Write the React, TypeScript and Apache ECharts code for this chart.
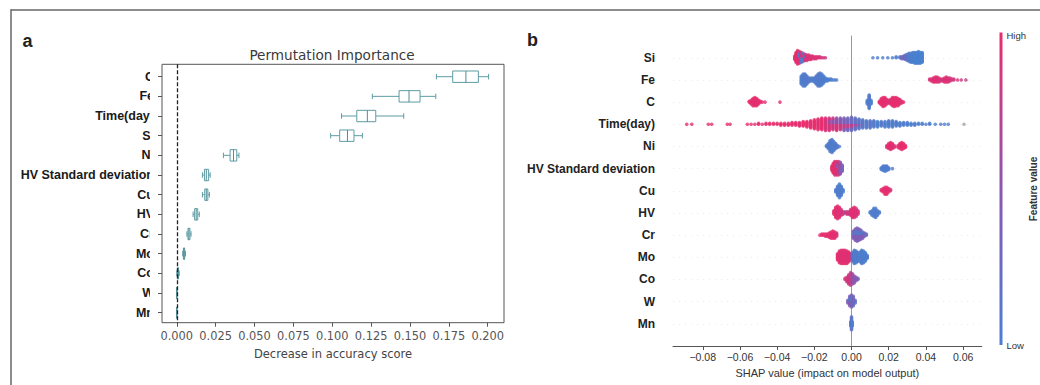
import React, { useEffect, useRef } from 'react';
import * as echarts from 'echarts';

// ---------- Panel a: permutation importance (box plot) ----------
const permFeatures = ['C', 'Fe', 'Time(day)', 'Si', 'Ni', 'HV Standard deviation', 'Cu', 'HV', 'Cr', 'Mo', 'Co', 'W', 'Mn'];
const permMin = [0.167, 0.1258, 0.106, 0.099, 0.03, 0.0165, 0.0165, 0.0105, 0.0065, 0.0038, 0.0, 0, 0];
const permQ1 = [0.1775, 0.143, 0.1158, 0.1048, 0.0343, 0.0178, 0.018, 0.0115, 0.0072, 0.0043, 0.0004, 0, 0];
const permMedian = [0.186, 0.1494, 0.1226, 0.1098, 0.0365, 0.019, 0.019, 0.0125, 0.0078, 0.0047, 0.0008, 0, 0];
const permQ3 = [0.194, 0.1565, 0.128, 0.114, 0.0386, 0.0205, 0.02, 0.0135, 0.0085, 0.0051, 0.0011, 0, 0];
const permMax = [0.2006, 0.1666, 0.146, 0.1194, 0.04, 0.0215, 0.021, 0.0145, 0.0092, 0.0056, 0.0016, 0, 0];
const permTicks = [0, 0.025, 0.05, 0.075, 0.1, 0.125, 0.15, 0.175, 0.2];

// ---------- Panel b: SHAP beeswarm ----------
const shapFeatures = ['Si', 'Fe', 'C', 'Time(day)', 'Ni', 'HV Standard deviation', 'Cu', 'HV', 'Cr', 'Mo', 'Co', 'W', 'Mn'];
const shapTicks = [-0.08, -0.06, -0.04, -0.02, 0, 0.02, 0.04, 0.06];
// [SHAP value, number of samples, feature value (0 = low, 1 = high, -1 = missing)]
const shapSi = [
  [-0.0305, 5, 1], [-0.0298, 12, 0.95], [-0.029, 16, 1], [-0.028, 8, 0.9], [-0.028, 6, 0.15],
  [-0.027, 6, 0.2], [-0.027, 6, 0.9], [-0.026, 6, 0.15], [-0.026, 4, 0.85], [-0.025, 5, 0.9], [-0.025, 3, 0.2],
  [-0.024, 7, 0.9], [-0.023, 6, 0.95], [-0.022, 5, 0.9], [-0.021, 4, 0.95], [-0.02, 3, 0.9], [-0.019, 3, 0.95],
  [-0.018, 2, 0.9], [-0.017, 2, 0.9], [-0.016, 1, 0.9], [-0.015, 1, 0.9], [-0.014, 1, 0.85],
  [0.0115, 1, 0.1], [0.014, 1, 0.15], [0.0168, 1, 0.1], [0.0195, 1, 0.15], [0.022, 1, 0.1], [0.024, 2, 0.15],
  [0.026, 2, 0.1], [0.027, 3, 0.3], [0.028, 4, 0.35], [0.029, 6, 0.3], [0.03, 8, 0.2], [0.031, 10, 0.15],
  [0.032, 11, 0.1], [0.033, 12, 0.1], [0.034, 13, 0.1], [0.035, 13, 0.05], [0.036, 14, 0.1], [0.037, 13, 0.05], [0.038, 12, 0.1],
];
const shapFe = [
  [-0.027, 9, 0.1], [-0.026, 13, 0.15], [-0.025, 13, 0.1], [-0.024, 9, 0.2], [-0.023, 5, 0.15], [-0.022, 4, 0.1],
  [-0.021, 4, 0.15], [-0.02, 5, 0.1], [-0.019, 9, 0.15], [-0.018, 13, 0.1], [-0.017, 14, 0.2], [-0.016, 12, 0.1],
  [-0.015, 8, 0.15], [-0.014, 4, 0.1], [-0.013, 3, 0.1], [-0.012, 2, 0.15], [-0.011, 2, 0.1], [-0.01, 1, 0.1],
  [-0.009, 1, 0.1], [-0.008, 1, 0.15],
  [0.042, 2, 0.9], [0.043, 3, 0.95], [0.044, 5, 0.9], [0.045, 6, 1], [0.046, 6, 0.9], [0.047, 5, 0.95],
  [0.048, 3, 0.85], [0.049, 3, 0.9], [0.05, 5, 1], [0.051, 6, 0.9], [0.052, 5, 0.95], [0.053, 4, 0.9],
  [0.054, 2, 0.85], [0.055, 2, 0.9], [0.057, 1, 0.9], [0.059, 1, 0.85], [0.0615, 1, 0.8],
];
const shapC = [
  [-0.055, 2, 1], [-0.054, 5, 1], [-0.053, 9, 0.95], [-0.052, 10, 1], [-0.051, 9, 0.95], [-0.05, 5, 1],
  [-0.049, 2, 0.95], [-0.048, 1, 1], [-0.0465, 1, 0.95], [-0.0385, 1, 1],
  [0.0085, 5, 0.1], [0.0095, 16, 0.15], [0.0105, 5, 0.1],
  [0.015, 3, 0.95], [0.016, 8, 1], [0.017, 11, 0.95], [0.018, 10, 1], [0.019, 6, 0.95], [0.02, 4, 0.9],
  [0.021, 6, 1], [0.022, 10, 0.95], [0.023, 11, 1], [0.024, 10, 0.95], [0.025, 9, 1], [0.026, 6, 0.95],
  [0.027, 3, 0.9], [0.028, 1, 1],
];
const shapTime = [
  [-0.0886, 1, 1], [-0.0859, 1, 1], [-0.077, 1, 0.95], [-0.0752, 1, 1], [-0.0668, 1, 1], [-0.0653, 1, 0.95],
  [-0.056, 1, 1], [-0.054, 1, 1], [-0.052, 1, 0.95], [-0.05, 2, 1], [-0.048, 1, 1], [-0.046, 2, 0.95],
  [-0.044, 2, 1], [-0.042, 2, 1], [-0.04, 2, 0.95], [-0.038, 3, 1], [-0.036, 3, 1], [-0.034, 3, 0.95],
  [-0.032, 4, 1], [-0.03, 4, 1], [-0.028, 5, 0.95], [-0.026, 6, 1], [-0.024, 7, 1], [-0.022, 9, 0.95],
  [-0.02, 11, 1], [-0.018, 13, 0.95], [-0.016, 14, 1], [-0.014, 15, 0.9],
  [-0.012, 10, 0.9], [-0.012, 5, 0.6], [-0.01, 8, 0.85], [-0.01, 6, 0.5], [-0.008, 8, 0.9], [-0.008, 7, 0.55],
  [-0.006, 7, 0.85], [-0.006, 7, 0.45], [-0.004, 6, 0.8], [-0.004, 9, 0.4], [-0.002, 6, 0.75], [-0.002, 9, 0.35],
  [0.0, 5, 0.8], [0.0, 11, 0.3], [0.002, 4, 0.6], [0.002, 10, 0.25], [0.004, 3, 0.5], [0.004, 9, 0.2],
  [0.006, 10, 0.2], [0.008, 9, 0.15], [0.01, 9, 0.2], [0.012, 8, 0.15], [0.014, 7, 0.1], [0.016, 6, 0.15],
  [0.018, 7, 0.1], [0.02, 8, 0.15], [0.022, 8, 0.1], [0.024, 6, 0.15], [0.026, 5, 0.1], [0.028, 4, 0.15],
  [0.03, 4, 0.1], [0.032, 3, 0.1], [0.034, 3, 0.15], [0.036, 2, 0.1], [0.038, 2, 0.1], [0.04, 1, 0.15],
  [0.042, 2, 0.1], [0.045, 1, 0.1], [0.048, 1, 0.15], [0.05, 1, 0.1], [0.052, 1, 0.1], [0.0605, 1, -1],
];
const shapNi = [
  [-0.0135, 2, 0.1], [-0.0125, 6, 0.15], [-0.0115, 12, 0.1], [-0.0105, 14, 0.15], [-0.0095, 10, 0.1],
  [-0.0085, 6, 0.2], [-0.0075, 3, 0.1], [-0.0065, 1, 0.15],
  [0.019, 3, 0.95], [0.02, 6, 1], [0.021, 8, 0.95], [0.022, 6, 1], [0.023, 3, 0.9],
  [0.025, 3, 1], [0.026, 6, 0.95], [0.027, 8, 1], [0.028, 6, 0.95], [0.029, 3, 1],
];
const shapHVSD = [
  [-0.0105, 6, 0.95], [-0.0098, 12, 1], [-0.009, 16, 0.95], [-0.008, 10, 0.9], [-0.008, 6, 0.6],
  [-0.007, 10, 0.85], [-0.007, 6, 0.5], [-0.006, 8, 0.5], [-0.006, 6, 0.8], [-0.005, 8, 0.35],
  [0.016, 3, 0.1], [0.017, 6, 0.15], [0.018, 7, 0.1], [0.019, 6, 0.15], [0.02, 3, 0.1], [0.022, 1, 0.15],
];
const shapCu = [
  [-0.0085, 3, 0.1], [-0.0075, 9, 0.15], [-0.0065, 13, 0.1], [-0.0055, 9, 0.15], [-0.0045, 3, 0.1],
  [0.016, 2, 0.95], [0.017, 4, 1], [0.018, 7, 0.95], [0.019, 7, 1], [0.02, 4, 0.95], [0.021, 2, 0.9],
];
const shapHV = [
  [-0.0095, 4, 0.95], [-0.0085, 10, 1], [-0.0075, 12, 0.9], [-0.0065, 10, 1], [-0.0055, 6, 0.85],
  [-0.0045, 3, 0.9], [-0.0035, 2, 0.7], [-0.0025, 3, 0.9], [-0.0015, 3, 0.8], [-0.0005, 6, 1],
  [0.0005, 9, 0.9], [0.0015, 10, 1], [0.0025, 8, 0.85], [0.0035, 4, 0.95],
  [0.01, 2, 0.1], [0.011, 5, 0.15], [0.012, 8, 0.1], [0.013, 9, 0.15], [0.014, 5, 0.1], [0.015, 2, 0.15],
];
const shapCr = [
  [-0.017, 1, 1], [-0.016, 2, 0.95], [-0.015, 2, 1], [-0.014, 3, 0.95], [-0.013, 3, 1], [-0.012, 5, 0.95],
  [-0.011, 7, 1], [-0.01, 8, 0.95], [-0.009, 7, 1], [-0.008, 4, 0.9],
  [0.001, 5, 0.45], [0.001, 3, 0.2], [0.002, 7, 0.45], [0.002, 5, 0.2], [0.003, 8, 0.4], [0.003, 6, 0.15],
  [0.004, 7, 0.45], [0.004, 5, 0.2], [0.005, 6, 0.4], [0.005, 4, 0.2], [0.006, 4, 0.45], [0.006, 3, 0.15],
  [0.007, 4, 0.35], [0.008, 2, 0.3],
];
const shapMo = [
  [-0.0075, 8, 0.95], [-0.0065, 14, 1], [-0.0055, 16, 0.9], [-0.0045, 16, 1], [-0.0035, 16, 0.95],
  [-0.0025, 15, 0.9], [-0.0015, 12, 1], [-0.0005, 8, 0.85],
  [0.0005, 10, 0.25], [0.0015, 16, 0.15], [0.0025, 14, 0.1], [0.0035, 10, 0.15], [0.0045, 12, 0.1],
  [0.0055, 16, 0.15], [0.0065, 14, 0.1], [0.0075, 10, 0.1], [0.0085, 4, 0.15],
];
const shapCo = [
  [-0.0035, 2, 0.9], [-0.0025, 5, 0.85], [-0.0015, 9, 0.9], [-0.0005, 12, 0.75], [0.0005, 10, 0.6],
  [0.0015, 7, 0.5], [0.0025, 4, 0.45], [0.0035, 2, 0.4],
];
const shapW = [
  [-0.002, 3, 0.4], [-0.001, 5, 0.45], [-0.001, 3, 0.2], [0.0, 6, 0.4], [0.0, 4, 0.2],
  [0.001, 5, 0.3], [0.001, 3, 0.45], [0.002, 3, 0.25],
];
const shapMn = [[-0.0004, 5, 0.15], [0.0, 14, 0.2], [0.0004, 5, 0.1]];
const shapRows = [shapSi, shapFe, shapC, shapTime, shapNi, shapHVSD, shapCu, shapHV, shapCr, shapMo, shapCo, shapW, shapMn];

// ---------- styling helpers ----------
const BLUE = [60, 138, 214];
const PURPLE = [140, 86, 176];
const RED = [234, 45, 108];
function colorFor(c: number): string {
  if (c < 0) return '#a6a6a6';
  let a, b, t;
  if (c <= 0.5) { a = BLUE; b = PURPLE; t = c / 0.5; } else { a = PURPLE; b = RED; t = (c - 0.5) / 0.5; }
  const m = a.map((v, i) => Math.round(v + (b[i] - v) * t));
  return `rgb(${m[0]},${m[1]},${m[2]})`;
}

// SHAP-style swarm layout: points are stacked within 100 bins per row
function swarm(rows: number[][][]) {
  const out: any[] = [];
  rows.forEach((groups, r) => {
    const pts: any[] = [];
    groups.forEach((g, gi) => {
      for (let k = 0; k < g[1]; k++) pts.push({ x: g[0], c: g[2], k, gi });
    });
    const xs = pts.map((p) => p.x);
    const mn = Math.min(...xs);
    const mx = Math.max(...xs);
    pts.forEach((p) => { p.q = Math.round((100 * (p.x - mn)) / (mx - mn + 1e-8)); });
    pts.sort((a, b) => a.q - b.q || a.k - b.k || a.gi - b.gi);
    let layer = 0;
    let last = -1;
    pts.forEach((p) => {
      if (p.q !== last) layer = 0;
      p.y = Math.ceil(layer / 2) * ((layer % 2) * 2 - 1);
      layer++;
      last = p.q;
    });
    const maxY = Math.max(...pts.map((p) => p.y + 1));
    pts.forEach((p) => {
      out.push({ value: [p.x, r - (p.y * 0.36) / maxY], itemStyle: { color: colorFor(p.c) } });
    });
  });
  return out;
}

const BOX = '#5e9ca4';
const MED = '#4f8e96';
const fmtShap = (v: number) => (v < -1e-9 ? '\u2212' + Math.abs(v).toFixed(2) : Math.abs(v).toFixed(2));

export default function App() {
  const ref = useRef<HTMLDivElement>(null);
  useEffect(() => {
    if (!ref.current) return;
    const chart = echarts.init(ref.current, undefined, { renderer: 'svg' });
    const permRows = permFeatures.map((_, i) => i);
    const permData = permFeatures.map((_, i) => [i, permMin[i], permQ1[i], permMedian[i], permQ3[i], permMax[i]]);
    const rowIdx = shapFeatures.map((_, i) => i);

    chart.setOption({
      animation: false,
      backgroundColor: '#ffffff',
      grid: [
        { left: 162, top: 64.3, width: 342, height: 258.4, show: true, borderColor: '#555', borderWidth: 1, backgroundColor: 'transparent' },
        { left: 673, top: 35.6, width: 308.7, height: 310.4, show: false },
      ],
      xAxis: [
        {
          type: 'value', gridIndex: 0, min: -0.0095, max: 0.2105,
          axisLine: { show: false, onZero: false }, splitLine: { show: false },
          axisTick: { show: true, customValues: permTicks, length: 4, lineStyle: { color: '#555' } },
          axisLabel: { customValues: permTicks, formatter: (v: number) => v.toFixed(3), color: '#555', fontFamily: 'DejaVu Sans', fontSize: 11.4, margin: 8 },
          name: 'Decrease in accuracy score', nameLocation: 'middle', nameGap: 25,
          nameTextStyle: { color: '#444', fontFamily: 'DejaVu Sans', fontSize: 11.5 },
        },
        {
          type: 'value', gridIndex: 1, min: -0.096, max: 0.07,
          axisLine: { show: true, onZero: false, lineStyle: { color: '#555', width: 1 } }, splitLine: { show: false },
          axisTick: { show: true, customValues: shapTicks, length: 4, lineStyle: { color: '#555' } },
          axisLabel: { customValues: shapTicks, formatter: fmtShap, color: '#333', fontFamily: 'Liberation Sans', fontSize: 10.5, margin: 5 },
          name: 'SHAP value (impact on model output)', nameLocation: 'middle', nameGap: 21,
          nameTextStyle: { color: '#333', fontFamily: 'Liberation Sans', fontSize: 11 },
        },
      ],
      yAxis: [
        {
          type: 'value', gridIndex: 0, min: -0.63, max: 12.51, inverse: true,
          axisLine: { show: false, onZero: false }, splitLine: { show: false },
          axisTick: { show: true, customValues: permRows, length: 4, lineStyle: { color: '#555' } },
          axisLabel: {
            customValues: permRows, formatter: (v: number) => permFeatures[Math.round(v)] ?? '',
            fontWeight: 'bold', fontSize: 12.5, color: '#1a1a1a', margin: 8, fontFamily: 'Liberation Sans',
          },
        },
        {
          type: 'value', gridIndex: 1, min: -1, max: 13, inverse: true,
          axisLine: { show: false, onZero: false }, axisTick: { show: false }, splitLine: { show: false },
          axisLabel: {
            customValues: rowIdx, formatter: (v: number) => shapFeatures[Math.round(v)] ?? '',
            fontWeight: 'bold', fontSize: 12, color: '#222', margin: 18, fontFamily: 'Liberation Sans',
          },
        },
      ],
      series: [
        {
          type: 'custom', xAxisIndex: 0, yAxisIndex: 0, data: permData,
          encode: { x: [1, 2, 3, 4, 5], y: 0 },
          renderItem: (params: any, api: any) => {
            const i = api.value(0);
            const rowH = Math.abs(api.size([0, 1])[1]);
            const hb = rowH * 0.29;
            const hc = rowH * 0.14;
            const pMin = api.coord([api.value(1), i]);
            const pQ1 = api.coord([api.value(2), i]);
            const pMed = api.coord([api.value(3), i]);
            const pQ3 = api.coord([api.value(4), i]);
            const pMax = api.coord([api.value(5), i]);
            const y = pMin[1];
            const st = { stroke: BOX, lineWidth: 1, fill: null };
            return {
              type: 'group',
              children: [
                { type: 'line', shape: { x1: pMin[0], y1: y, x2: pQ1[0], y2: y }, style: st },
                { type: 'line', shape: { x1: pQ3[0], y1: y, x2: pMax[0], y2: y }, style: st },
                { type: 'line', shape: { x1: pMin[0], y1: y - hc, x2: pMin[0], y2: y + hc }, style: st },
                { type: 'line', shape: { x1: pMax[0], y1: y - hc, x2: pMax[0], y2: y + hc }, style: st },
                { type: 'rect', shape: { x: pQ1[0], y: y - hb, width: pQ3[0] - pQ1[0], height: 2 * hb }, style: { stroke: BOX, lineWidth: 1, fill: 'rgba(0,0,0,0)' } },
                { type: 'line', shape: { x1: pMed[0], y1: y - hb, x2: pMed[0], y2: y + hb }, style: { stroke: MED, lineWidth: 1 } },
              ],
            };
          },
          z: 3,
        },
        {
          type: 'scatter', xAxisIndex: 0, yAxisIndex: 0, data: [],
          markLine: {
            silent: true, symbol: 'none', label: { show: false }, z: 4,
            lineStyle: { color: '#222', width: 1.3, type: [4, 2] },
            data: [{ xAxis: 0 }],
          },
        },
        {
          type: 'scatter', xAxisIndex: 1, yAxisIndex: 1, data: [],
          markLine: {
            silent: true, symbol: 'none', label: { show: false }, z: 1,
            lineStyle: { color: '#e4e4e4', width: 0.8, type: [1, 5] },
            data: rowIdx.map((i) => ({ yAxis: i })),
          },
        },
        {
          type: 'scatter', xAxisIndex: 1, yAxisIndex: 1, data: [],
          markLine: {
            silent: true, symbol: 'none', label: { show: false }, z: 1,
            lineStyle: { color: '#999', width: 1, type: 'solid' },
            data: [{ xAxis: 0 }],
          },
        },
        {
          type: 'scatter', xAxisIndex: 1, yAxisIndex: 1, data: swarm(shapRows as any),
          symbolSize: 3.6, progressive: 0, z: 3,
        },
      ],
      graphic: [
        { type: 'line', shape: { x1: 11, y1: 10, x2: 1040, y2: 10 }, style: { stroke: '#666', lineWidth: 1.5 } },
        { type: 'line', shape: { x1: 11, y1: 9.3, x2: 11, y2: 385 }, style: { stroke: '#666', lineWidth: 1.5 } },
        { type: 'text', x: 22.5, y: 41, style: { text: 'a', fontSize: 18, fontWeight: 'bold', fontFamily: 'Liberation Sans', fill: '#222', verticalAlign: 'middle' } },
        { type: 'text', x: 527, y: 40, style: { text: 'b', fontSize: 18, fontWeight: 'bold', fontFamily: 'Liberation Sans', fill: '#222', verticalAlign: 'middle' } },
        { type: 'text', x: 332, y: 54.5, style: { text: 'Permutation Importance', fontSize: 13.6, fontFamily: 'DejaVu Sans', fill: '#3a3a3a', align: 'center', verticalAlign: 'middle' } },
        { type: 'rect', z: 100, shape: { x: 150, y: 60, width: 7, height: 268 }, style: { fill: '#ffffff' } },
        {
          type: 'rect', shape: { x: 999.5, y: 32.5, width: 3, height: 312.5 },
          style: {
            fill: new echarts.graphic.LinearGradient(0, 0, 0, 1, [
              { offset: 0, color: '#ea2d6c' },
              { offset: 0.5, color: '#8c56b0' },
              { offset: 1, color: '#4a7fd4' },
            ]),
          },
        },
        { type: 'text', x: 1006.5, y: 35, style: { text: 'High', fontSize: 9.5, fontFamily: 'Liberation Sans', fill: '#333', verticalAlign: 'middle' } },
        { type: 'text', x: 1006.5, y: 345, style: { text: 'Low', fontSize: 9.5, fontFamily: 'Liberation Sans', fill: '#333', verticalAlign: 'middle' } },
        { type: 'text', x: 1033, y: 189, rotation: Math.PI / 2, style: { text: 'Feature value', fontSize: 10, fontWeight: 'bold', fontFamily: 'Liberation Sans', fill: '#333', align: 'center', verticalAlign: 'middle' } },
      ],
    });
    return () => chart.dispose();
  }, []);
  return <div ref={ref} style={{ position: 'absolute', left: 0, top: 0, width: 1040, height: 385 }} />;
}
